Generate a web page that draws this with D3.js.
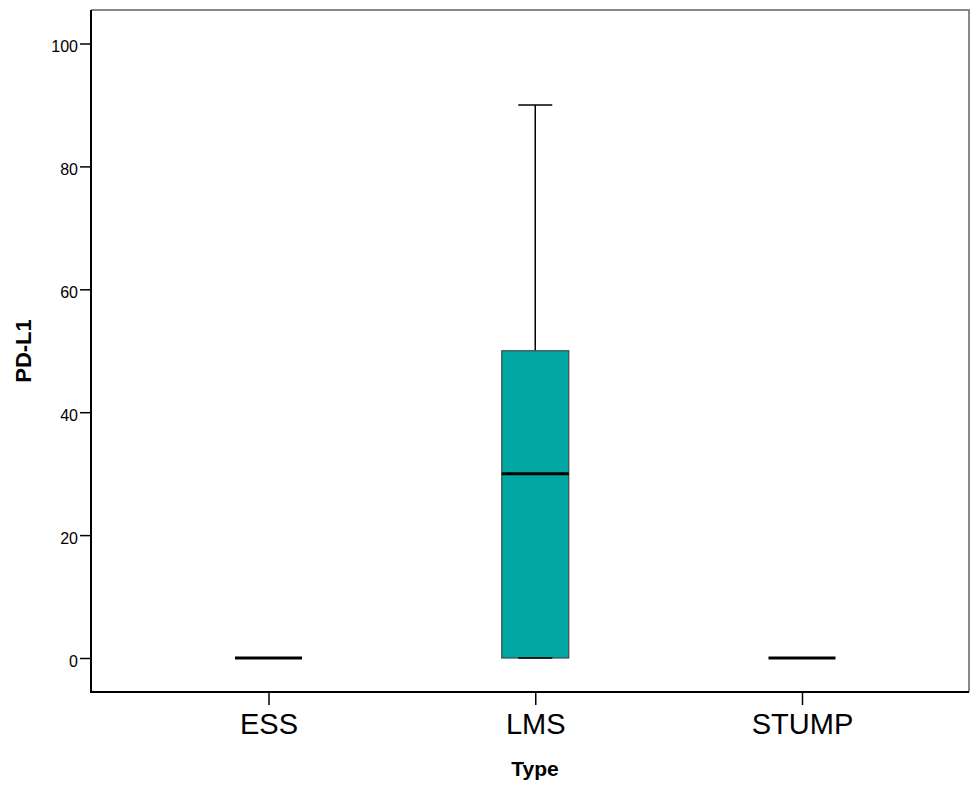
<!DOCTYPE html>
<html>
<head>
<meta charset="utf-8">
<script src="https://cdn.jsdelivr.net/npm/d3@7"></script>
<style>
  html, body { margin: 0; padding: 0; background: #fff; }
  svg { display: block; font-family: "Liberation Sans", Arial, sans-serif; }
</style>
</head>
<body>
<svg id="chart" width="973" height="787"></svg>
<script>
// Box-plot summary of PD-L1 by tumour type
const categories = ["ESS", "LMS", "STUMP"];
const whiskerLow = [0, 0, 0];
const q1Values = [0, 0, 0];
const medians = [0, 30, 0];
const q3Values = [0, 50, 0];
const whiskerHigh = [0, 90, 0];
const yTicks = [0, 20, 40, 60, 80, 100];

const svg = d3.select("#chart");
const plotLeft = 91, plotRight = 969, plotTop = 10, plotBottom = 692;

const x = d3.scalePoint().domain(categories).range([268.5, 802]);
const y = d3.scaleLinear().domain([0, 100]).range([658, 43.5]);

const boxW = 67, capW = 34;

// frame
svg.append("line").attr("x1", plotLeft).attr("x2", plotRight + 1).attr("y1", plotTop).attr("y2", plotTop)
  .attr("stroke", "#888").attr("stroke-width", 2);
svg.append("line").attr("x1", plotRight).attr("x2", plotRight).attr("y1", plotTop).attr("y2", plotBottom)
  .attr("stroke", "#888").attr("stroke-width", 2);

// y axis
const yAxis = d3.axisLeft(y).tickValues(yTicks).tickSize(11).tickPadding(2);
const gy = svg.append("g").attr("transform", `translate(${plotLeft},0)`).call(yAxis);
gy.select(".domain").remove();
gy.selectAll(".tick line").attr("stroke", "#000").attr("stroke-width", 1.5);
gy.selectAll(".tick text").attr("font-size", 16).attr("fill", "#000").attr("dy", "0.52em")
  .attr("font-family", "Liberation Sans, Arial, sans-serif");
svg.append("line").attr("x1", plotLeft).attr("x2", plotLeft).attr("y1", plotTop).attr("y2", plotBottom + 1)
  .attr("stroke", "#000").attr("stroke-width", 2);

// x axis
const xAxis = d3.axisBottom(x).tickSize(13).tickPadding(8);
const gx = svg.append("g").attr("transform", `translate(0,${plotBottom})`).call(xAxis);
gx.select(".domain").remove();
gx.selectAll(".tick line").attr("stroke", "#000").attr("stroke-width", 1.5);
gx.selectAll(".tick text").attr("font-size", 29).attr("fill", "#000")
  .attr("font-family", "Liberation Sans, Arial, sans-serif");
svg.append("line").attr("x1", plotLeft).attr("x2", plotRight).attr("y1", plotBottom).attr("y2", plotBottom)
  .attr("stroke", "#000").attr("stroke-width", 2);

// axis titles
svg.append("text").attr("x", 535).attr("y", 776).attr("text-anchor", "middle")
  .attr("font-size", 21).attr("font-weight", "bold").text("Type");
svg.append("text").attr("transform", "translate(31,351) rotate(-90)").attr("text-anchor", "middle")
  .attr("font-size", 22).attr("font-weight", "bold").text("PD-L1");

// boxes
const data = categories.map((c, i) => ({
  c, lo: whiskerLow[i], q1: q1Values[i], med: medians[i], q3: q3Values[i], hi: whiskerHigh[i]
}));

const g = svg.append("g");
data.forEach(d => {
  const cx = x(d.c);
  if (d.q3 > d.q1) {
    // whisker stems and caps
    g.append("line").attr("x1", cx).attr("x2", cx).attr("y1", y(d.q3)).attr("y2", y(d.hi))
      .attr("stroke", "#000").attr("stroke-width", 1.5);
    g.append("line").attr("x1", cx - capW / 2).attr("x2", cx + capW / 2).attr("y1", y(d.hi)).attr("y2", y(d.hi))
      .attr("stroke", "#000").attr("stroke-width", 1.5);
    g.append("rect").attr("x", cx - boxW / 2).attr("width", boxW)
      .attr("y", y(d.q3)).attr("height", y(d.q1) - y(d.q3))
      .attr("fill", "#00a6a1").attr("stroke", "#3a4a4a").attr("stroke-width", 1.2);
    g.append("line").attr("x1", cx - capW / 2).attr("x2", cx + capW / 2).attr("y1", y(d.lo)).attr("y2", y(d.lo))
      .attr("stroke", "#000").attr("stroke-width", 1.5);
  }
  // median
  g.append("line").attr("x1", cx - boxW / 2).attr("x2", cx + boxW / 2).attr("y1", y(d.med)).attr("y2", y(d.med))
    .attr("stroke", "#000").attr("stroke-width", 3);
});
</script>
</body>
</html>
